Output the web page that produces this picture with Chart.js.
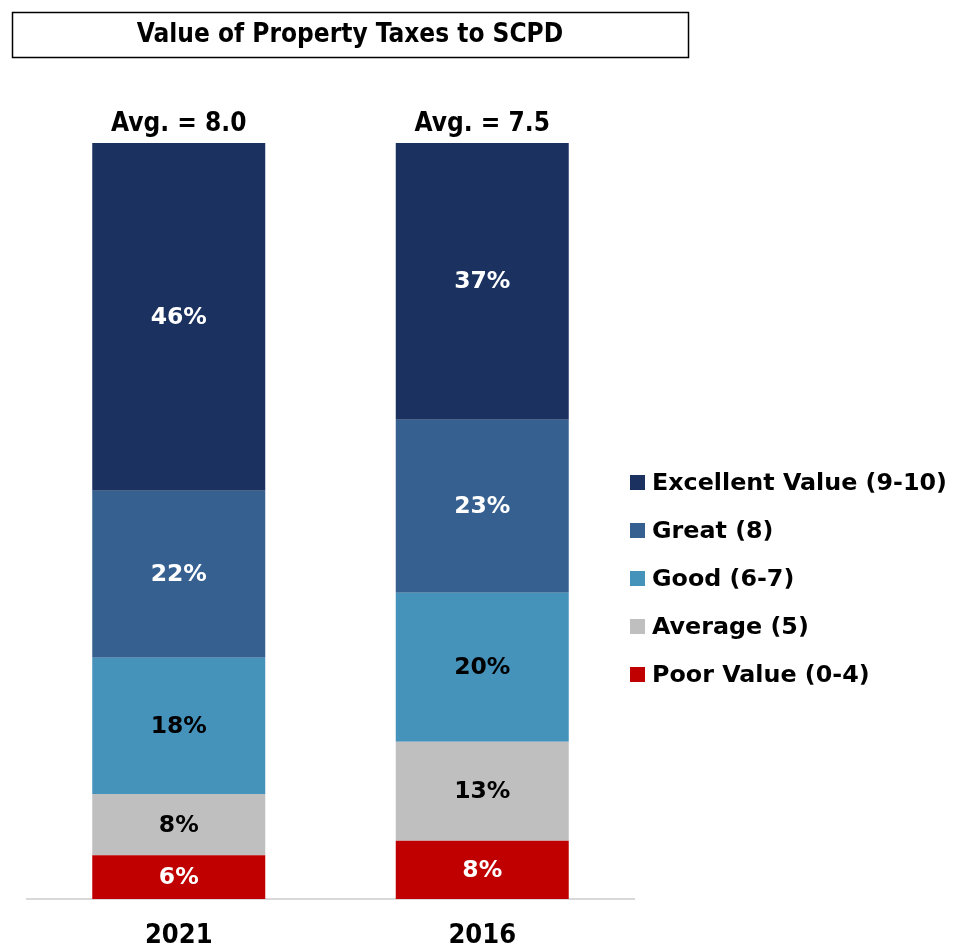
<!DOCTYPE html>
<html><head><meta charset="utf-8">
<script src="https://cdn.jsdelivr.net/npm/chart.js@4/dist/chart.umd.min.js"></script>
<style>html,body{margin:0;padding:0;background:#fff;}#wrap{width:967px;height:946px;position:relative;}</style>
</head><body><div id="wrap"><canvas id="c" width="967" height="946"></canvas></div>
<script>
const categories = ["2021", "2016"];
const averages = ["8.0", "7.5"];
const seriesNames = ["Poor Value (0-4)", "Average (5)", "Good (6-7)", "Great (8)", "Excellent Value (9-10)"];
const poor = [5.8, 7.7];
const average = [8.1, 13.1];
const good = [18.0, 19.7];
const great = [22.1, 22.9];
const excellent = [46.0, 36.6];
const colors = ["#C00000", "#BFBFBF", "#4592BB", "#36608F", "#1B3160"];
const labelColors = ["#FFFFFF", "#000000", "#000000", "#FFFFFF", "#FFFFFF"];
const titleText = "Value of Property Taxes to SCPD";

const seriesValues = [poor, average, good, great, excellent];
const datasets = seriesValues.map((vals, i) => ({
  label: seriesNames[i], data: vals, backgroundColor: colors[i],
  borderWidth: 0, barPercentage: 0.57, categoryPercentage: 1.0
}));

const overlay = {
  id: 'overlay',
  afterDatasetsDraw(chart) {
    const ctx = chart.ctx;
    ctx.save();
    // data labels
    ctx.font = 'bold 23.5px "DejaVu Sans"';
    ctx.textAlign = 'center'; ctx.textBaseline = 'middle';
    chart.data.datasets.forEach((ds, di) => {
      const meta = chart.getDatasetMeta(di);
      meta.data.forEach((el, i) => {
        const v = ds.data[i];
        ctx.fillStyle = labelColors[di];
        ctx.fillText(Math.round(v) + '%', el.x, (el.y + el.base) / 2 + 1);
      });
    });
    // avg labels
    ctx.font = 'bold 26px "DejaVu Sans Condensed", "DejaVu Sans"';
    ctx.fillStyle = '#000';
    ctx.textBaseline = 'alphabetic';
    const top = chart.getDatasetMeta(4).data;
    top.forEach((el, i) => {
      ctx.fillText('Avg. = ' + averages[i], el.x, el.y - 12);
    });
    // title box
    ctx.lineWidth = 1.5; ctx.strokeStyle = '#000';
    ctx.strokeRect(12.5, 12.5, 676, 45);
    ctx.font = 'bold 26px "DejaVu Sans Condensed", "DejaVu Sans"';
    ctx.textBaseline = 'middle';
    ctx.fillText(titleText, 350, 35);
    // legend
    ctx.textAlign = 'left';
    ctx.font = 'bold 23.8px "DejaVu Sans"';
    for (let k = 0; k < 5; k++) {
      const di = 4 - k;
      const y = 482.5 + k * 48;
      ctx.fillStyle = colors[di];
      ctx.fillRect(630, y - 7.5, 15, 15);
      ctx.fillStyle = '#000';
      ctx.fillText(seriesNames[di], 652, y + 1);
    }
    ctx.restore();
  }
};

new Chart(document.getElementById('c'), {
  type: 'bar',
  data: { labels: categories, datasets },
  options: {
    responsive: false, animation: false,
    layout: { padding: { left: 27, right: 333, top: 143, bottom: 0 } },
    plugins: { legend: { display: false }, tooltip: { enabled: false }, title: { display: false } },
    scales: {
      x: {
        stacked: true,
        grid: { display: false, drawTicks: false },
        border: { display: true, color: '#D9D9D9', width: 2 },
        ticks: { color: '#000', padding: 21, font: { family: '"DejaVu Sans Condensed", "DejaVu Sans"', weight: 'bold', size: 27 } },
        afterFit(s) { s.height = 47; }
      },
      y: { stacked: true, display: false, min: 0, max: 100 }
    }
  },
  plugins: [overlay]
});
</script></body></html>
